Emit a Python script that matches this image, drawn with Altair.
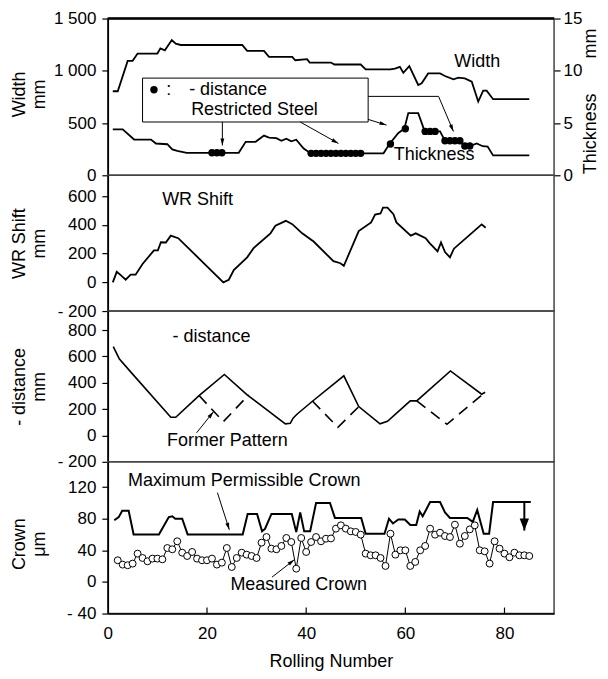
import math
import altair as alt
import pandas as pd

FONT = "Liberation Sans"

# ---------------- data ----------------
# Panel 1: strip width (mm, left axis)
width_x = [1, 2, 4, 5, 6, 10, 10.6, 11.5, 12.9, 13.7, 14.7, 27.1, 28.1, 31.5, 32.5, 37.2, 37.8,
           40.2, 40.7, 45, 45.7, 51, 52, 57, 57.9, 58.9, 59.6, 60.8, 62.6, 63.3, 64.6, 67, 68,
           69.7, 70.7, 72, 73.4, 74.7, 75.7, 76.4, 77.7, 85]
width_v = [804, 804, 1095, 1095, 1165, 1165, 1215, 1196, 1294, 1260, 1247, 1247, 1190, 1190, 1133,
           1133, 1101, 1111, 1079, 1079, 1060, 1060, 1013, 1013, 1020, 1038, 981, 1044, 864, 880,
           975, 975, 950, 918, 934, 927, 896, 706, 810, 810, 728, 728]

# Panel 1: strip thickness (mm, right axis)
thick_x = [1, 3, 5.3, 8.7, 9.7, 12, 13, 14, 15.9, 26.4, 27.8, 29.8, 31.5, 32.5, 34, 35, 36, 37,
           38, 39.5, 40.3, 41, 51, 55.6, 56.8, 58.6, 59.8, 60.6, 62.6, 63.9, 67, 68, 71, 72, 73,
           74.4, 75.6, 76.6, 77.7, 85]
thick_v = [4.4, 4.4, 3.42, 3.42, 3.04, 2.97, 2.47, 2.34, 2.15, 2.15, 3.2, 3.2, 3.8, 3.6, 3.55,
           3.3, 3.5, 3.25, 3.4, 2.56, 2.3, 2.1, 2.1, 2.1, 3.0, 4.05, 4.46, 5.95, 5.95, 4.2, 4.2,
           3.3, 3.3, 2.8, 2.8, 3.04, 2.78, 2.75, 1.9, 1.9]

# Panel 1: restricted-steel markers (thickness mm)
dot_x = [21, 22, 23, 41, 42, 43, 44, 45, 46, 47, 48, 49, 50, 51, 57, 60, 64, 65, 66,
         68, 69, 70, 71, 72, 73]
dot_v = [2.15, 2.15, 2.15, 2.1, 2.1, 2.1, 2.1, 2.1, 2.1, 2.1, 2.1, 2.1, 2.1, 2.1, 3.0, 4.46,
         4.2, 4.2, 4.2, 3.3, 3.3, 3.3, 3.3, 2.8, 2.8]

# Panel 2: WR shift (mm)
wr_x = [1, 1.8, 2.6, 3.6, 4.6, 5.6, 7, 9.3, 10.1, 10.7, 11.7, 12.7, 14.2, 23.3, 24.4, 25.4, 28.1,
        29.4, 32.8, 33.8, 35.9, 37.2, 39.2, 41.5, 45.5, 46.9, 47.6, 50.6, 53.1, 53.9, 55, 55.5,
        56.4, 57.6, 58.2, 61.1, 62.1, 64.1, 64.9, 66.5, 67.2, 68, 69, 69.8, 75.4, 76.2]
wr_v = [0, 73, 50, 18, 53, 53, 128, 222, 222, 279, 277, 325, 307, 0, 18, 85, 174, 238, 341, 394,
        428, 405, 341, 284, 147, 133, 115, 357, 417, 472, 479, 520, 520, 474, 417, 325, 341, 307,
        273, 215, 277, 211, 174, 234, 403, 380]

# Panel 3: distance (mm), actual pattern
dist_x = [1.1, 2.3, 4.6, 12.7, 13.7, 18.4, 23.5, 28.1, 35.8, 36.8, 37.4, 38.2, 41.2, 47.6, 50.6,
          54.9, 56.4, 61, 62.3, 69.1, 75.4, 76.1]
dist_v = [675, 583, 483, 138, 138, 303, 463, 308, 88, 93, 133, 163, 258, 453, 220, 88, 108, 263,
          263, 490, 313, 328]

# Panel 3: former pattern (dashed), three segments
former_x = [18.4, 23.3, 28.4, 41.3, 46.4, 50.7, 62.3, 68.4, 76.1]
former_v = [303, 105, 308, 260, 62, 222, 263, 85, 328]
former_seg = ["a", "a", "a", "b", "b", "b", "c", "c", "c"]

# Panel 4: maximum permissible crown (um)
maxc_x = [1.3, 2.2, 2.9, 4.2, 5.2, 10.3, 12.3, 13, 13.6, 15, 16.1, 27.2, 28.2, 30.1, 31.1, 31.7,
          33, 37.1, 38, 38.8, 39.6, 40.8, 42, 44.8, 45.8, 51.1, 52, 55.8, 56.7, 57.5, 58.6, 59.9,
          61, 62.2, 62.9, 63.5, 65, 67, 68, 69, 72.5, 73.6, 74.5, 75.8, 76.9, 77.7, 85.3]
maxc_v = [78, 82, 90, 90, 60, 60, 82, 83, 80, 80, 60, 60, 86, 86, 64, 67, 86, 86, 63, 88, 64, 64,
          100, 100, 81, 81, 61, 61, 80, 74, 79, 79, 72, 72, 89, 83, 101, 101, 88, 81, 81, 76, 91,
          61, 61, 101, 101]

# Panel 4: measured crown (um), rolling numbers 2..85
crown_x = list(range(2, 86))
crown_v = [27.4, 21.9, 21.1, 23.2, 35.8, 30.3, 26.1, 29.5, 29.5, 28.6,
           42.9, 41.3, 51.4, 37, 32.8, 37.9, 29.5, 27.4, 27.4, 29.5,
           21.9, 24.4, 42.9, 18.9, 30.3, 37, 34.5, 32.8, 30.3, 49.7,
           56.8, 42.1, 41.3, 45.5, 55.6, 50.5, 16.8, 55.6, 37.9, 50.5,
           56.8, 51.4, 54.7, 55, 67.4, 71.6, 67.4, 64, 63.2, 59.8,
           35.8, 33.7, 33.7, 30.3, 20.2, 61, 34.5, 40, 40, 20.2,
           25.3, 40, 45.5, 67.4, 59.8, 62.3, 58.1, 56.8, 72.4, 48.4,
           58.1, 66.5, 71.6, 40, 38.7, 23.2, 51.4, 42.1, 35.8, 31.2,
           37, 33.7, 33.7, 32.8]

# Axis ticks
x_ticks = [0, 20, 40, 60, 80]
y1_ticks = [0, 500, 1000, 1500]
y1r_ticks = [0, 5, 10, 15]
y2_ticks = [-200, 0, 200, 400, 600]
y3_ticks = [-200, 0, 200, 400, 600, 800]
y4_ticks = [-40, 0, 40, 80, 120]

# Annotation texts (x, value, label)
p1_center_text = [(74.5, 1088, "Width"), (65.8, 190, "Thickness"), (12.3, 819, ":")]
p1_left_text = [(16.4, 819, "- distance"), (16.8, 629, "Restricted Steel")]
p1_box = (7.0, 52.5, 510, 930)
p1_legend_dot = (9.3, 819)
p2_text = [(18.1, 570, "WR Shift")]
p3_text = [(20.9, 749, "- distance"), (24.1, -43, "Former Pattern")]
p4_text = [(27.5, 128, "Maximum Permissible Crown"), (38.5, -3.4, "Measured Crown")]

SMALL_HEAD = "M0,-1L0.55,1L-0.55,1Z"
BIG_HEAD = "M0,-1L0.78,1L-0.78,1Z"
p1_arrows = [
    ([(23.1, 510), (23.1, 285)], 49, SMALL_HEAD),
    ([(38.8, 510), (46.5, 305)], 49, SMALL_HEAD),
    ([(52.5, 535), (56.2, 480)], 49, SMALL_HEAD),
    ([(52.5, 755), (66.7, 755), (69.7, 420)], 49, SMALL_HEAD),
]
p3_arrows = [([(17.9, 20), (21.3, 180)], 49, SMALL_HEAD)]
p4_arrows = [
    ([(22.1, 113), (24.5, 66)], 49, SMALL_HEAD),
    ([(33.1, 6), (37.6, 28)], 49, SMALL_HEAD),
]
p4_big_arrow = [([(84, 101), (84, 65)], 144, BIG_HEAD)]

# ---------------- layout ----------------
W = 447
H1, H2, H3, H4 = 157, 136, 151, 152
XDOM = [0, 90]
D1 = [0, 1500]
D1R = [0, 15]
D2 = [-200, 745]
D3 = [-200, 945]
D4 = [-40, 152]

NEG_LABEL = "datum.value < 0 ? '- ' + format(-datum.value, 'd') : format(datum.value, 'd')"


def left_axis(title, values, h, expr=NEG_LABEL, dy=0):
    return alt.Axis(title=title, values=values, labelExpr=expr, tickSize=6, labelPadding=6,
                    titleAngle=270, titleAlign="center", titleBaseline="middle",
                    titleX=-88, titleY=h / 2 + dy, titleLineHeight=20,
                    domainWidth=1.5, tickWidth=1.2)


def make_x(axis=None):
    return alt.X("x:Q", scale=alt.Scale(domain=XDOM, nice=False, zero=False), axis=axis)


def make_y(dom, axis=None):
    return alt.Y("v:Q", scale=alt.Scale(domain=dom, nice=False, zero=False), axis=axis)


def line(xs, vs, X, Y, sw=1.8):
    df = pd.DataFrame({"x": xs, "v": vs})
    return alt.Chart(df).mark_line(color="black", strokeWidth=sw).encode(x=X, y=Y)


def texts(rows, X, Y, align="center", size=18):
    df = pd.DataFrame(rows, columns=["x", "v", "label"])
    return alt.Chart(df).mark_text(font=FONT, fontSize=size, align=align, baseline="middle",
                                   color="black").encode(x=X, y=Y, text="label:N")


def arrows(specs, X, Y, dom, h, sw=1.0):
    kx = W / (XDOM[1] - XDOM[0])
    ky = h / (dom[1] - dom[0])
    seg_rows, head_rows = [], []
    for i, (pts, size, shape) in enumerate(specs):
        for j, (px, py) in enumerate(pts):
            seg_rows.append({"x": px, "v": py, "id": i, "o": j})
        (x0, y0), (x1, y1) = pts[-2], pts[-1]
        dx = (x1 - x0) * kx
        dy = -(y1 - y0) * ky
        L = math.hypot(dx, dy)
        ux, uy = dx / L, dy / L
        s = math.sqrt(size) / 2
        ang = math.degrees(math.atan2(ux, -uy)) % 360
        head_rows.append({"x": x1 - ux * s / kx, "v": y1 + uy * s / ky,
                          "ang": ang, "size": size, "shape": shape})
    segs = alt.Chart(pd.DataFrame(seg_rows)).mark_line(color="black", strokeWidth=sw).encode(
        x=X, y=Y, detail="id:N", order="o:Q")
    heads = alt.Chart(pd.DataFrame(head_rows)).mark_point(
        filled=True, color="black", opacity=1, strokeWidth=0).encode(
        x=X, y=Y,
        angle=alt.Angle("ang:Q", scale=None),
        size=alt.Size("size:Q", scale=None),
        shape=alt.Shape("shape:N", scale=None))
    return segs + heads


# ---------------- panel 1 ----------------
X1 = make_x(None)
Y1 = make_y(D1, left_axis(["Width", "mm"], y1_ticks, H1,
                          expr="replace(format(datum.value, ','), ',', ' ')", dy=-3))
thick_axis = alt.Axis(orient="right", title="Thickness\u00a0\u00a0\u00a0\u00a0\u00a0\u00a0\u00a0mm",
                      values=y1r_ticks, format="d", tickSize=6, labelPadding=3,
                      titleAngle=270, titleAlign="center", titleBaseline="middle",
                      titleX=36, titleY=H1 / 2 + 4, domain=False, tickWidth=1.2)
Y1R = make_y(D1R, thick_axis)

box_df = pd.DataFrame({"x": [p1_box[0]], "x2": [p1_box[1]], "v": [p1_box[2]], "v2": [p1_box[3]]})
box = alt.Chart(box_df).mark_rect(fill="white", stroke="black", strokeWidth=1).encode(
    x=X1, x2="x2:Q", y=Y1, y2="v2:Q")
legend_dot = alt.Chart(pd.DataFrame({"x": [p1_legend_dot[0]], "v": [p1_legend_dot[1]]})).mark_point(
    filled=True, color="black", size=55, opacity=1).encode(x=X1, y=Y1)
width_line = line(width_x, width_v, X1, Y1)
top_rule = alt.Chart(pd.DataFrame({"x": [0]})).mark_rule(color="black", strokeWidth=2.5).encode(
    x=alt.value(0), x2=alt.value(W), y=alt.value(0))

left_group = alt.layer(box, legend_dot, texts(p1_center_text, X1, Y1),
                       texts(p1_left_text, X1, Y1, "left"),
                       arrows(p1_arrows, X1, Y1, D1, H1), width_line, top_rule)

thick_line = line(thick_x, thick_v, X1, Y1R)
thick_dots = alt.Chart(pd.DataFrame({"x": dot_x, "v": dot_v})).mark_point(
    filled=True, color="black", size=55, opacity=1).encode(x=X1, y=Y1R)
right_group = alt.layer(thick_line, thick_dots)

p1 = alt.layer(left_group, right_group).resolve_scale(y="independent").properties(width=W, height=H1)

# ---------------- panel 2 ----------------
Y2 = make_y(D2, left_axis(["WR Shift", "mm"], y2_ticks, H2))
p2 = alt.layer(
    line(wr_x, wr_v, X1, Y2),
    texts(p2_text, X1, Y2),
).properties(width=W, height=H2)

# ---------------- panel 3 ----------------
Y3 = make_y(D3, left_axis(["- distance", "mm"], y3_ticks, H3))
former_df = pd.DataFrame({"x": former_x, "v": former_v, "seg": former_seg})
former = alt.Chart(former_df).mark_line(color="black", strokeWidth=1.6, strokeDash=[11, 7]).encode(
    x=X1, y=Y3, detail="seg:N")
p3 = alt.layer(
    line(dist_x, dist_v, X1, Y3, sw=1.6),
    former,
    texts(p3_text, X1, Y3),
    arrows(p3_arrows, X1, Y3, D3, H3),
).properties(width=W, height=H3)

# ---------------- panel 4 ----------------
x_axis = alt.Axis(title="Rolling Number", values=x_ticks, format="d", ticks=False, tickSize=0,
                  labelPadding=12, titlePadding=11, labelFlush=False, domainWidth=1.5)
X4 = make_x(x_axis)
Y4 = make_y(D4, left_axis(["Crown", "\u03bcm"], y4_ticks, H4, dy=6))
maxc = line(maxc_x, maxc_v, X4, Y4, sw=2.0)
crown_df = pd.DataFrame({"x": crown_x, "v": crown_v})
crown_line = alt.Chart(crown_df).mark_line(color="black", strokeWidth=1).encode(x=X4, y=Y4)
crown_pts = alt.Chart(crown_df).mark_point(shape="circle", filled=True, fill="white", stroke="black",
                                           strokeWidth=1, size=48, opacity=1).encode(x=X4, y=Y4)
xtick_df = pd.DataFrame({"x": x_ticks[1:]})
xticks_in = alt.Chart(xtick_df).mark_rule(color="black", strokeWidth=1.2).encode(
    x=X4, y=alt.value(H4), y2=alt.value(H4 - 6))

p4 = alt.layer(
    maxc, crown_line, crown_pts, xticks_in,
    texts(p4_text, X4, Y4),
    arrows(p4_arrows, X4, Y4, D4, H4),
    arrows(p4_big_arrow, X4, Y4, D4, H4, sw=2.0),
).properties(width=W, height=H4)

chart = alt.vconcat(p1, p2, p3, p4, spacing=0, bounds="flush").properties(
    padding={"left": 2, "right": 0, "top": 0, "bottom": 0}
).configure_view(stroke="#444", strokeWidth=1.5).configure_axis(
    labelFont=FONT, titleFont=FONT, labelFontSize=17, titleFontSize=18,
    labelColor="black", titleColor="black", domainColor="black", tickColor="black",
    grid=False, titleFontWeight="normal", labelFlush=False
)

chart.save("out.html", embed_options={"renderer": "svg", "actions": False})
